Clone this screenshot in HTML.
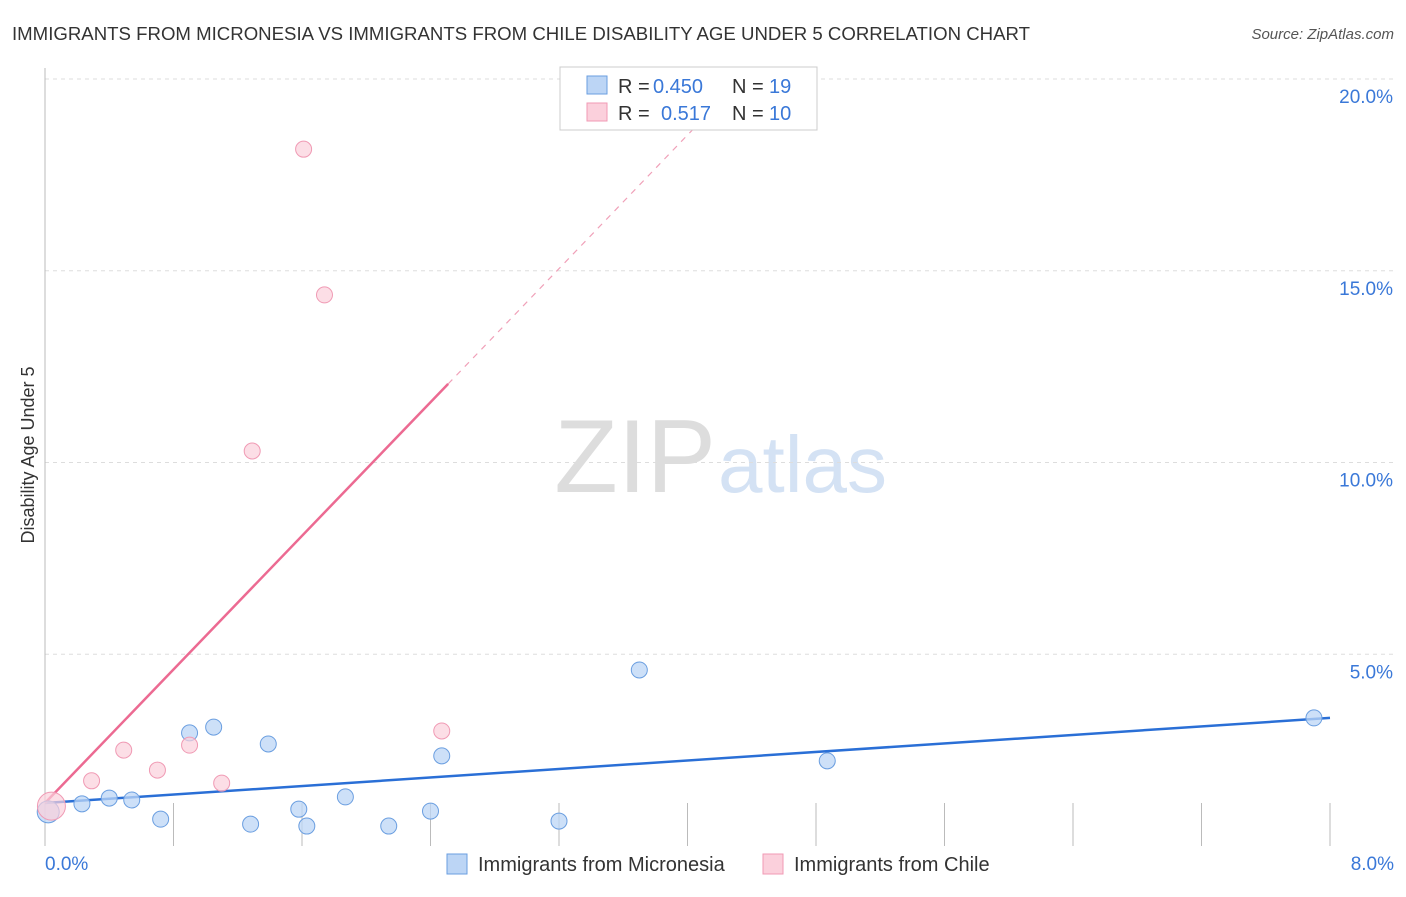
<!DOCTYPE html>
<html><head><meta charset="utf-8"><style>
body{margin:0;background:#fff;font-family:"Liberation Sans",sans-serif;}
svg text{font-family:"Liberation Sans",sans-serif;}
</style></head><body>
<svg width="1406" height="892" xmlns="http://www.w3.org/2000/svg">
<text x="12" y="40" font-size="18" fill="#333" textLength="1018" lengthAdjust="spacingAndGlyphs">IMMIGRANTS FROM MICRONESIA VS IMMIGRANTS FROM CHILE DISABILITY AGE UNDER 5 CORRELATION CHART</text>
<text x="1394" y="39" font-size="15" fill="#555" font-style="italic" text-anchor="end">Source: ZipAtlas.com</text>
<text x="716" y="492" font-size="104" fill="#ddd" font-family="Liberation Serif" text-anchor="end">ZIP</text>
<text x="718" y="492" font-size="80" fill="#d4e2f4">atlas</text>
<g id="grid"></g>
<g id="axes"></g>
<g id="marks"></g>
<text transform="translate(34,455) rotate(-90)" font-size="18" fill="#333" text-anchor="middle">Disability Age Under 5</text>
<g>
<rect x="560" y="67" width="257" height="63" fill="#fff" stroke="#ccc"/>
<rect x="587" y="76" width="20" height="18" fill="#bcd5f5" stroke="#6a9ee0"/>
<text y="93" font-size="20" fill="#333"><tspan x="618">R =</tspan><tspan x="653" fill="#3a78d8">0.450</tspan><tspan x="732">N =</tspan><tspan x="769" fill="#3a78d8">19</tspan></text>
<rect x="587" y="103" width="20" height="18" fill="#fbd0dc" stroke="#f09ab4"/>
<text y="120" font-size="20" fill="#333"><tspan x="618">R =</tspan><tspan x="661" fill="#3a78d8">0.517</tspan><tspan x="732">N =</tspan><tspan x="769" fill="#3a78d8">10</tspan></text>
</g>
<g>
<rect x="447" y="854" width="20" height="20" fill="#bcd5f5" stroke="#6a9ee0"/>
<text x="478" y="871" font-size="20" fill="#333">Immigrants from Micronesia</text>
<rect x="763" y="854" width="20" height="20" fill="#fbd0dc" stroke="#f09ab4"/>
<text x="794" y="871" font-size="20" fill="#333">Immigrants from Chile</text>
</g>
</svg>
<script>
const blueX=[0.02,0.23,0.40,0.54,0.72,0.90,1.05,1.28,1.39,1.58,1.63,1.87,2.14,2.40,2.47,3.20,3.70,4.87,7.90];
const blueY=[0.89,1.1,1.25,1.2,0.7,2.95,3.1,0.57,2.66,0.96,0.52,1.28,0.52,0.91,2.35,0.65,4.59,2.22,3.34];
const pinkX=[0.04,0.29,0.49,0.70,0.90,1.10,1.29,1.61,1.74,2.47];
const pinkY=[1.04,1.7,2.5,1.98,2.63,1.64,10.3,18.17,14.37,3.0];
const yTicks=[5,10,15,20];
const xTickLabels=["0.0%","8.0%"];
const blueTrend=[1.12,3.34];
const pinkTrend=[1.12,12.05];
const NS="http://www.w3.org/2000/svg";
const sx=v=>45+v/8*1285, sy=v=>846-v*38.35;
function mk(p,t,a){const e=document.createElementNS(NS,t);for(const k in a)e.setAttribute(k,a[k]);p.appendChild(e);return e;}
const grid=document.getElementById('grid'),axes=document.getElementById('axes'),marks=document.getElementById('marks');
yTicks.forEach(t=>{
 const l=mk(grid,'line',{x1:45,x2:1394,y1:sy(t),y2:sy(t),stroke:'#ddd','stroke-dasharray':'4,4'});
 
 
 const tx=mk(axes,'text',{x:1393,y:sy(t)+24,'font-size':19,fill:'#3a78d8','text-anchor':'end'});tx.textContent=t.toFixed(1)+'%';
 
 
});
const ya=mk(axes,'line',{x1:45,x2:45,y1:68,y2:846,stroke:'#bbb'});


for(let i=0;i<=10;i++){const x=sx(i*0.8);const t=mk(axes,'line',{x1:x,x2:x,y1:803,y2:846,stroke:'#bbb'});
 
 }
[[0,'start',45],[8,'end',1394]].forEach((d,i)=>{const t=mk(axes,'text',{x:d[2],y:870,'font-size':19,fill:'#3a78d8','text-anchor':d[1]});t.textContent=xTickLabels[i];
 
 });
const bl=mk(marks,'line',{x1:sx(0),y1:sy(blueTrend[0]),x2:sx(8),y2:sy(blueTrend[1]),stroke:'#2a6fd6','stroke-width':2.5});


const slope=(pinkTrend[1]-pinkTrend[0])/2.51;
const pl=mk(marks,'line',{x1:sx(0),y1:sy(pinkTrend[0]),x2:sx(2.51),y2:sy(pinkTrend[1]),stroke:'#ec6a92','stroke-width':2.5});


const pd=mk(marks,'line',{x1:sx(2.51),y1:sy(pinkTrend[1]),x2:sx(4.1),y2:sy(pinkTrend[0]+slope*4.1),stroke:'#f0a0b8','stroke-width':1.2,'stroke-dasharray':'6,6'});


blueX.forEach((x,i)=>{const c=mk(marks,'circle',{cx:sx(x),cy:sy(blueY[i]),r:i==0?11:8,fill:'#bcd5f5','fill-opacity':0.75,stroke:'#6a9ee0','stroke-width':1});
 
 });
pinkX.forEach((x,i)=>{const c=mk(marks,'circle',{cx:sx(x),cy:sy(pinkY[i]),r:i==0?14:8,fill:'#fbd0dc','fill-opacity':0.7,stroke:'#f09ab4','stroke-width':1});
 
 });
</script>
</body></html>
